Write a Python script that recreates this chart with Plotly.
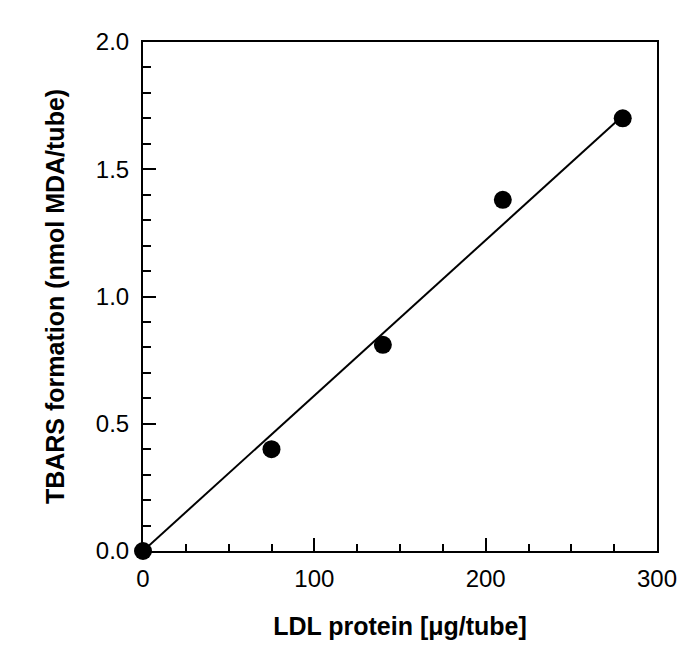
import plotly.graph_objects as go

# measured points
ldl_protein = [0, 75, 140, 210, 280]
tbars = [0.0, 0.40, 0.81, 1.38, 1.70]

# regression line end points
fit_x = [0, 280]
fit_y = [0.0, 1.71]

FONT = "Arial, Liberation Sans, Helvetica, sans-serif"


def main() -> None:
    fig = go.Figure()

    fig.add_trace(
        go.Scatter(
            x=fit_x,
            y=fit_y,
            mode="lines",
            line=dict(color="black", width=2),
            showlegend=False,
        )
    )
    fig.add_trace(
        go.Scatter(
            x=ldl_protein,
            y=tbars,
            mode="markers",
            marker=dict(color="black", size=18),
            cliponaxis=False,
            showlegend=False,
        )
    )

    axis_common = dict(
        showline=True,
        linecolor="black",
        linewidth=2,
        mirror=True,
        showgrid=False,
        zeroline=False,
        ticks="inside",
        tickcolor="black",
        tickwidth=2,
        ticklen=13,
        tickfont=dict(family=FONT, size=24, color="black"),
        ticklabeloverflow="allow",
    )

    fig.update_xaxes(
        range=[0, 300],
        tickvals=[0, 100, 200, 300],
        minor=dict(dtick=25, ticks="inside", ticklen=7, tickwidth=2, tickcolor="black"),
        title=dict(
            text="<b>LDL protein [μg/tube]</b>",
            font=dict(family=FONT, size=25, color="black"),
            standoff=27,
        ),
        ticklabelstandoff=5,
        **axis_common,
    )
    fig.update_yaxes(
        range=[0, 2.0],
        tickvals=[0, 0.5, 1.0, 1.5, 2.0],
        tickformat=".1f",
        minor=dict(dtick=0.1, ticks="inside", ticklen=8, tickwidth=2, tickcolor="black"),
        title=dict(
            text="<b>TBARS formation (nmol MDA/tube)</b>",
            font=dict(family=FONT, size=25, color="black"),
            standoff=24,
        ),
        ticklabelstandoff=7,
        **axis_common,
    )

    # page body adds an 8px offset; right edge of the figure runs past the window
    fig.update_layout(
        width=685,
        height=658,
        margin=dict(l=135, r=36, t=34, b=115),
        paper_bgcolor="white",
        plot_bgcolor="white",
    )
    fig.write_html("out.html")


if __name__ == "__main__":
    main()
